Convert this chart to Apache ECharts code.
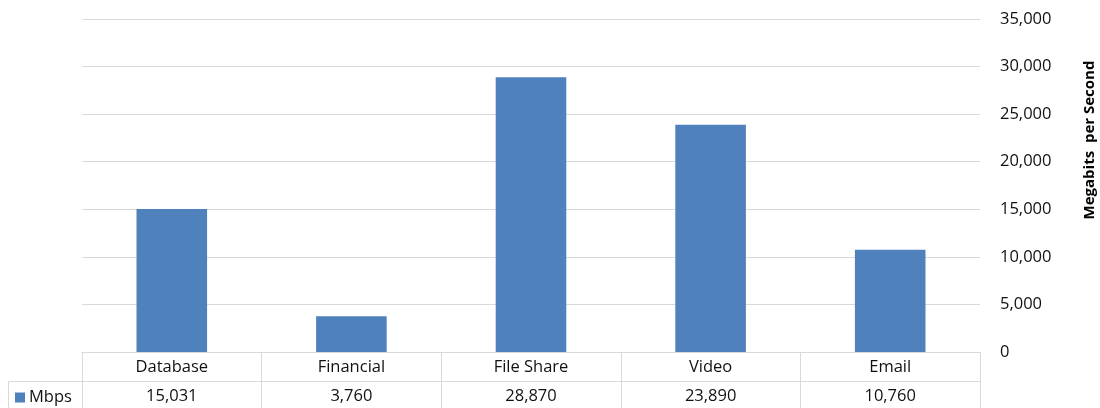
<!DOCTYPE html>
<html>
<head>
<meta charset="utf-8">
<script src="https://cdn.jsdelivr.net/npm/echarts@6/dist/echarts.min.js"></script>
<style>
html,body{margin:0;padding:0;background:#fff;}
#chart{width:1100px;height:408px;}
</style>
</head>
<body>
<div id="chart"></div>
<script>
const categories = ['Database', 'Financial', 'File Share', 'Video', 'Email'];
const seriesName = 'Mbps';
const values = [15031, 3760, 28870, 23890, 10760];
const yTicks = { min: 0, max: 35000, interval: 5000 };
const axisTitle = 'Megabits  per Second';

const FONT = '"Open Sans", "Noto Sans", sans-serif';
const fmt = v => Number(v).toLocaleString('en-US');
const lineColor = '#d9d9d9';
const textColor = '#111';

const chart = echarts.init(document.getElementById('chart'));
chart.setOption({
  animation: false,
  backgroundColor: '#fff',
  textStyle: { fontFamily: FONT },
  grid: { left: 82, right: 120, top: 19, bottom: 56 },
  legend: {
    data: [seriesName],
    left: 10, top: 384,
    icon: 'rect', itemWidth: 10, itemHeight: 10, itemGap: 4,
    textStyle: { fontFamily: FONT, fontSize: 16.5, color: textColor, padding: [0,0,0,-1] }
  },
  xAxis: [
    {
      type: 'category', data: categories, position: 'bottom',
      axisLine: { show: true, lineStyle: { color: lineColor, width: 1 } },
      axisTick: { show: true, length: 56, lineStyle: { color: lineColor, width: 1 } },
      axisLabel: { margin: 7, fontFamily: FONT, fontSize: 16.5, color: textColor }
    },
    {
      type: 'category', data: categories, position: 'bottom', offset: 29,
      axisLine: { show: true, lineStyle: { color: lineColor, width: 1 } },
      axisTick: { show: false },
      axisLabel: {
        margin: 7, fontFamily: FONT, fontSize: 16.5, color: textColor,
        formatter: (v, i) => fmt(values[i])
      }
    }
  ],
  yAxis: {
    type: 'value', position: 'right',
    min: yTicks.min, max: yTicks.max, interval: yTicks.interval,
    axisLine: { show: false }, axisTick: { show: false },
    splitLine: { lineStyle: { color: lineColor, width: 1 } },
    axisLabel: { margin: 20, fontFamily: FONT, fontSize: 16.5, color: textColor, formatter: v => fmt(v) }
  },
  graphic: [
    {
      type: 'polyline', silent: true,
      shape: { points: [[8.5, 408], [8.5, 381.5], [82, 381.5]] },
      style: { stroke: lineColor, lineWidth: 1, fill: null }
    },
    {
      type: 'text', x: 1090, y: 140, rotation: Math.PI / 2,
      style: {
        text: axisTitle, fontFamily: FONT, fontSize: 15, fontWeight: 'bold',
        fill: '#000', textAlign: 'center', textVerticalAlign: 'middle'
      }
    }
  ],
  series: [{
    name: seriesName, type: 'bar', data: values,
    barWidth: '39.3%',
    itemStyle: { color: '#4f81bd' }
  }]
});
</script>
</body>
</html>
